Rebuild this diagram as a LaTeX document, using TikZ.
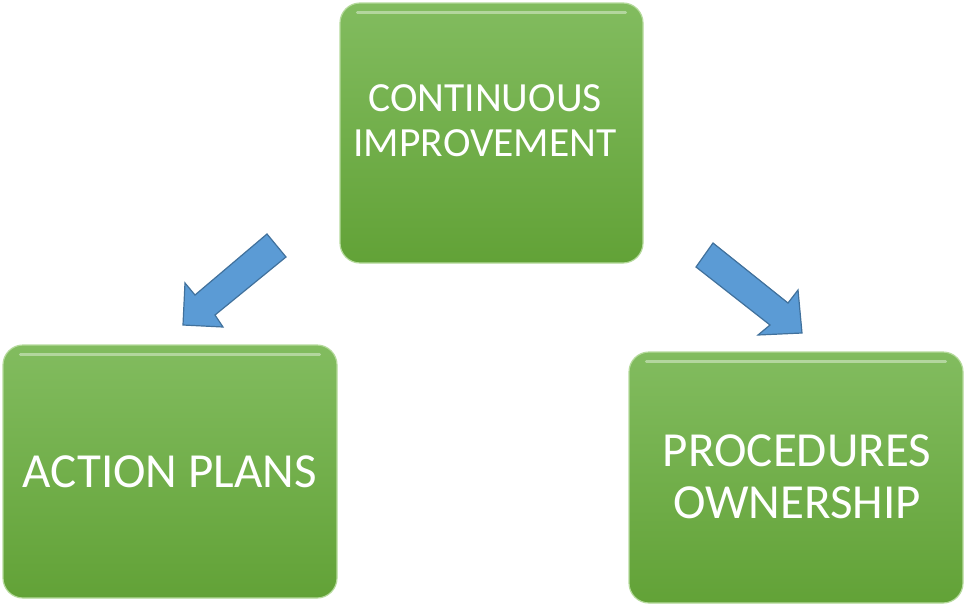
\documentclass[tikz,border=0pt]{standalone}
\usepackage{fontspec}
\setmainfont{Carlito}
\usetikzlibrary{shapes.misc}
\definecolor{gtop}{HTML}{82BC5F}
\definecolor{gbot}{HTML}{62A237}
\definecolor{gedge}{HTML}{B5DA9C}
\definecolor{afill}{HTML}{5B9BD5}
\definecolor{aedge}{HTML}{41719C}
\tikzset{
  greenbox/.style={rounded corners=20pt, top color=gtop, bottom color=gbot, draw=gedge, line width=1.2pt, inner sep=0pt},
  boxtext/.style={text=white, align=center, inner sep=0pt},
  blockarrow/.style={fill=afill, draw=aedge, line width=1.2pt, line join=miter},
  gloss/.style={draw=white, opacity=0.4, line width=3pt, line cap=round}
}
\begin{document}
\begin{tikzpicture}[x=1pt,y=-1pt]
\useasboundingbox (0,0) rectangle (966,605);
% boxes
\node[greenbox, minimum width=303pt, minimum height=260pt] (top) at (491.5,133) {};
\node[greenbox, minimum width=334pt, minimum height=253pt] (left) at (170,471.5) {};
\node[greenbox, minimum width=334pt, minimum height=251pt] (right) at (796,477.5) {};
% gloss highlights
\draw[gloss] ([xshift=18pt,yshift=-10pt]top.north west) -- ([xshift=-18pt,yshift=-10pt]top.north east);
\draw[gloss] ([xshift=18pt,yshift=-10pt]left.north west) -- ([xshift=-18pt,yshift=-10pt]left.north east);
\draw[gloss] ([xshift=18pt,yshift=-10pt]right.north west) -- ([xshift=-18pt,yshift=-10pt]right.north east);
% texts
\node[boxtext, font=\fontsize{41.5}{45}\selectfont] (ttext) at (485,121) {CONTINUOUS\\IMPROVEMENT};
\node[boxtext, font=\fontsize{49}{52}\selectfont] (ltext) at (left.center) {ACTION PLANS};
\node[boxtext, font=\fontsize{49}{52}\selectfont] (rtext) at (797,477) {PROCEDURES\\OWNERSHIP};
% block arrows
\draw[blockarrow] (267,234) -- (286,257) -- (215,315) -- (223,327) -- (183,325) -- (185,283) -- (195,295) -- cycle;
\draw[blockarrow] (713,243) -- (788,303) -- (798,290) -- (802,333) -- (758,335) -- (770,325) -- (696,267) -- cycle;
\end{tikzpicture}
\end{document}
